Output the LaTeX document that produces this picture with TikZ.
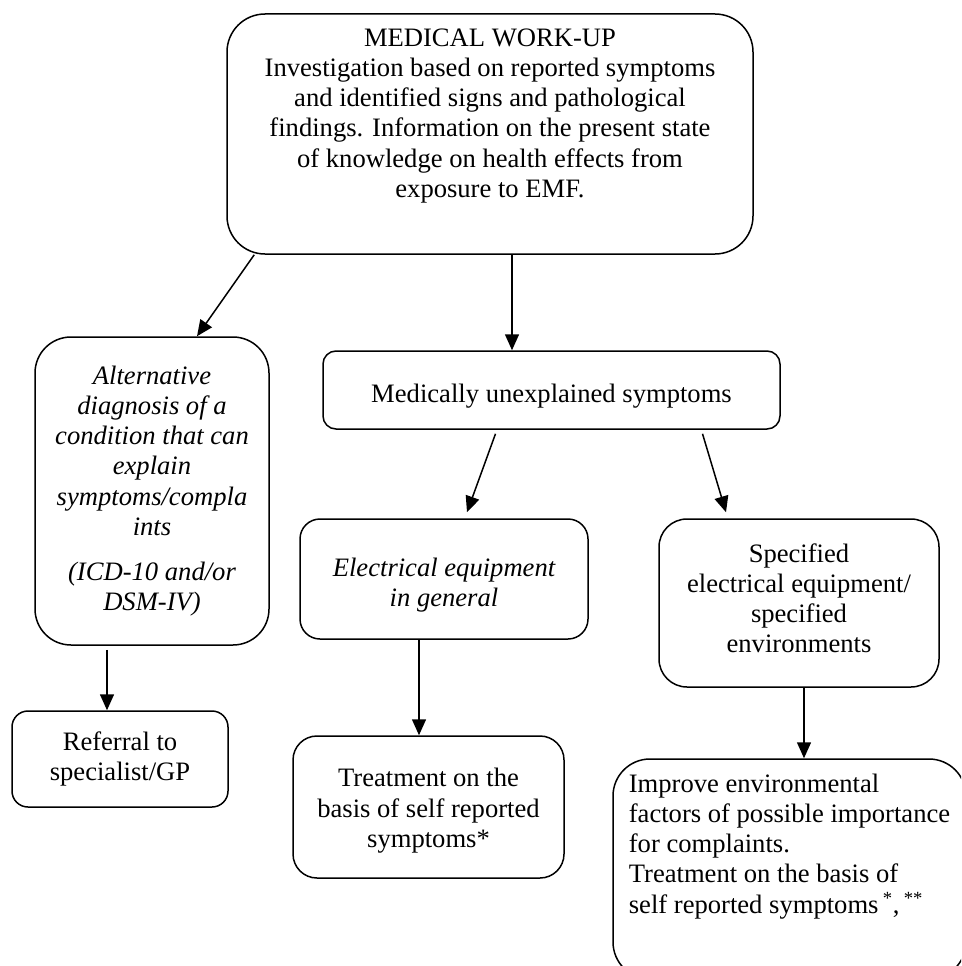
\documentclass[tikz,border=0pt]{standalone}
\usepackage{fontspec}
\setmainfont{Liberation Serif}
\usetikzlibrary{arrows.meta}

\begin{document}
\begin{tikzpicture}[x=1pt, y=-1pt,
    every node/.style={font=\fontsize{26.6}{30.2}\selectfont},
    box/.style={draw, line width=1.5pt, rounded corners=#1, align=center, inner sep=0pt},
    slanted/.style={font=\fontsize{26.6}{30.2}\selectfont\itshape},
    link/.style={line width=1.5pt, -{Triangle[length=16pt,width=14pt]}}]
        \useasboundingbox (0,0) rectangle (961,966);
        \clip (0,0) rectangle (961,966);
        % boxes
        \node[box=38pt, minimum width=526pt, minimum height=240pt] (work) at (490,134)
        {MEDICAL WORK-UP\\ Investigation based on reported symptoms\\ and identified signs and pathological\\
        findings. Information on the present state\\ of knowledge on health effects from\\
        exposure to EMF.\rule[-42pt]{0pt}{42pt}};
        \node[box=36pt, slanted, minimum width=234pt, minimum height=308pt] (alt) at (152,491)
        {Alternative\\ diagnosis of a\\ condition that can\\ explain\\ symptoms/compla\\ ints\\[15pt]
        (ICD-10 and/or\\ DSM-IV)};
        \node[box=13pt, minimum width=457pt, minimum height=78pt] (mus) at (551.5,390)
        {\rule{0pt}{30pt}Medically unexplained symptoms};
        \node[box=20pt, slanted, minimum width=288pt, minimum height=120pt] (elec) at (444,579)
        {\rule{0pt}{30pt}Electrical equipment\\ in general};
        \node[box=28pt, minimum width=280pt, minimum height=168pt] (spec) at (799,603)
        {Specified\\ electrical equipment/\\ specified\\ environments\rule[-10pt]{0pt}{0pt}};
        \node[box=16pt, minimum width=216pt, minimum height=96pt] (refer) at (120,759)
        {Referral to\\ specialist/GP};
        \node[box=24pt, minimum width=271pt, minimum height=142pt] (treat) at (428.5,807)
        {\rule{0pt}{26pt}Treatment on the\\ basis of self reported\\ symptoms*};
        \node[box=37pt, align=left, minimum width=353pt, minimum height=220pt] (improve) at (789.5,869)
        {Improve environmental\\ factors of possible importance\\ for complaints.\\
        Treatment on the basis of\\ self reported symptoms\,\textsuperscript{*},\,\textsuperscript{**}\rule[-51pt]{0pt}{51pt}};
        % arrows
        \draw[link] ([xshift=28pt]work.south west) -- ([xshift=45pt]alt.north);
        \draw[link] ([xshift=22pt]work.south) -- ([xshift=22pt]work.south |- mus.north);
        \draw[link] ([xshift=-56pt,yshift=-4pt]mus.south) -- ([xshift=23pt,yshift=6pt]elec.north);
        \draw[link] ([xshift=151pt,yshift=-4pt]mus.south) -- ([xshift=-73pt,yshift=6pt]spec.north);
        \draw[link] ([xshift=-45pt,yshift=-4pt]alt.south) -- ([xshift=-45pt]alt.south |- refer.north);
        \draw[link] ([xshift=-25pt]elec.south) -- ([xshift=-25pt]elec.south |- treat.north);
        \draw[link] ([xshift=5pt]spec.south) -- ([xshift=5pt]spec.south |- improve.north);
\end{tikzpicture}
\end{document}
